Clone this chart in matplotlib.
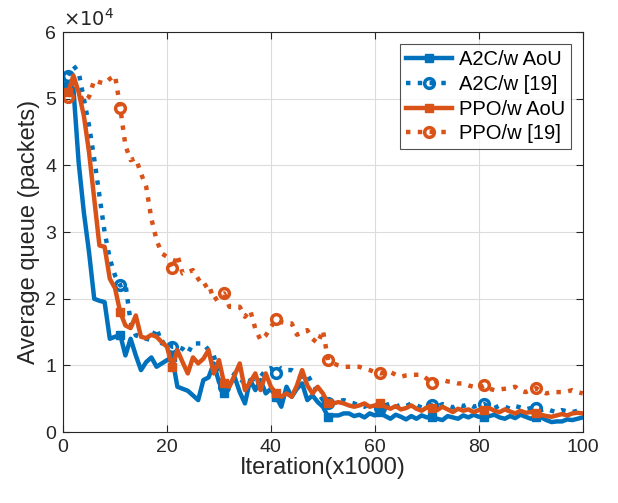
import numpy as np
import matplotlib.pyplot as plt
from matplotlib.ticker import FuncFormatter

plt.rcParams['font.family'] = ['Liberation Sans', 'DejaVu Sans']

# iterations (x1000)
iters = np.arange(1, 101)

# average queue, in thousands of packets
a2c_aou = [52, 51.5, 40.5, 33, 27, 20, 19.7, 19.5, 14, 14.3,
           14.6, 11.5, 14, 11.5, 9.3, 10.5, 11.2, 9.8, 10.3, 10.8,
           11.2, 6.8, 6.5, 6.2, 5.5, 4.8, 7.8, 8.2, 10.3, 7.5,
           5.9, 7, 8.3, 6, 4.3, 7.8, 6.3, 7.8, 5.8, 6.5,
           5.3, 3.8, 6.8, 5.3, 6.5, 7.3, 4.8, 5.5, 4.5, 3.8,
           2.3, 2.5, 2.5, 2.8, 2.8, 2.4, 2.6, 2.2, 2.8, 2.5,
           3.0, 2.4, 2.0, 2.6, 2.3, 1.9, 2.4, 2.0, 2.5, 2.2,
           2.3, 2.0, 1.8, 2.4, 2.2, 2.0, 2.5, 2.2, 2.6, 2.3,
           2.3, 2.4, 2.6, 2.2, 2.0, 2.4, 2.1, 2.6, 2.3, 2.0,
           2.3, 2.2, 1.8, 1.5, 1.6, 1.6, 1.9, 1.8, 2.0, 2.2]

a2c_19 = [53.5, 55, 54, 50, 46, 41, 35.5, 30, 26, 23.5,
          22, 22.3, 16.5, 14.5, 14.3, 14, 13.8, 15.6, 13.3, 13.8,
          12.8, 12.8, 12.5, 11.8, 13.3, 13.3, 13.3, 12.3, 11.5, 8.8,
          6.8, 7.5, 8.8, 8, 7.3, 7.8, 8, 8.3, 9.3, 9.6,
          8.8, 9.6, 9.3, 9.3, 8.8, 8.3, 8.6, 7.3, 6, 4.8,
          4.3, 4.5, 4.6, 4.8, 4.5, 4.3, 4.0, 3.8, 4.2, 4.0,
          3.6, 4.0, 4.3, 3.8, 4.1, 3.9, 4.3, 4.0, 3.7, 4.1,
          4.0, 3.8, 4.2, 4.0, 3.7, 4.1, 3.9, 4.2, 3.8, 4.0,
          4.2, 3.8, 3.6, 4.0, 3.8, 3.5, 3.9, 3.7, 3.4, 3.6,
          3.6, 3.3, 3.5, 3.2, 3.0, 3.3, 3.1, 3.0, 3.2, 3.1]

ppo_aou = [51, 53.5, 51, 47.5, 42, 35, 28, 27.8, 23, 21.6,
           18, 16, 15.6, 17.5, 14.3, 14.1, 14.6, 14.3, 13.5, 12.8,
           9.8, 12.3, 10.5, 8.8, 11.2, 10.3, 11, 12.3, 8.8, 10.8,
           7.3, 6.8, 8.5, 10.3, 6.3, 7.5, 8.8, 6.3, 8.8, 6.8,
           5.8, 5.3, 5.8, 5.3, 7, 9.3, 7, 5.8, 6.8, 5.8,
           4.3, 4.3, 4.5, 4.3, 4.0, 3.8, 4.0, 4.3, 3.8, 4.0,
           4.3, 3.8, 3.5, 3.9, 3.4, 3.6, 4.0, 3.5, 3.2, 3.7,
           3.6, 3.3, 3.8, 3.4, 3.0, 3.5, 3.2, 3.4, 3.0, 3.3,
           3.3, 3.6, 3.2, 3.0, 3.4, 3.1, 2.8, 3.2, 2.9, 3.0,
           2.8, 2.6, 2.4, 2.3, 2.5, 2.7, 2.5, 2.8, 2.9, 2.8]

ppo_19 = [50.3, 52.8, 51, 49.5, 50.3, 52.8, 52.5, 52.3, 53, 53.5,
          48.7, 43, 40.8, 41.1, 38.8, 36.8, 32, 28.8, 26.8, 26.3,
          24.6, 26.6, 23.8, 24, 24.3, 23, 21.8, 22.3, 19.8, 20.3,
          20.8, 18.8, 18.8, 18.8, 17.3, 18.3, 15.5, 13.8, 14.5, 15.8,
          16.9, 16.5, 16.3, 16.3, 14.6, 15, 15.3, 14, 13.3, 15.3,
          10.8, 10.3, 10, 9.8, 9.8, 9.8, 9.8, 9.5, 9.3, 9.0,
          8.8, 8.9, 9.0, 8.6, 8.3, 8.5, 8.6, 8.6, 8.6, 8.0,
          7.3, 7.6, 7.8, 7.6, 7.5, 7.3, 7.3, 7.0, 6.8, 6.6,
          7.0, 6.5, 6.3, 6.4, 6.5, 6.6, 6.8, 6.2, 6.0, 6.3,
          6.6, 6.1, 5.8, 6.0, 6.0, 6.0, 6.1, 6.3, 6.0, 5.8]

labels = ['A2C/w AoU', 'A2C/w [19]', 'PPO/w AoU', 'PPO/w [19]']
blue = '#0072BD'
orange = '#D95319'

fig = plt.figure(figsize=(6.18, 5.03), dpi=100)
ax = fig.add_axes([0.102, 0.141, 0.841, 0.795])

lw = 3.2
ax.plot(iters, np.array(a2c_aou) * 1000, color=blue, lw=lw, ls='-',
        marker='s', ms=6, markevery=10, label=labels[0])
ax.plot(iters, np.array(a2c_19) * 1000, color=blue, lw=lw, ls=':',
        marker='o', ms=7, mfc='none', mew=2.5, markevery=10, label=labels[1])
ax.plot(iters, np.array(ppo_aou) * 1000, color=orange, lw=lw, ls='-',
        marker='s', ms=6, markevery=10, label=labels[2])
ax.plot(iters, np.array(ppo_19) * 1000, color=orange, lw=lw, ls=':',
        marker='o', ms=7, mfc='none', mew=2.5, markevery=10, label=labels[3])

ax.set_xlim(0, 100)
ax.set_ylim(0, 60000)
ax.set_xticks(np.arange(0, 101, 20))
ax.set_yticks(np.arange(0, 60001, 10000))
ax.yaxis.set_major_formatter(FuncFormatter(lambda v, p: f'{v / 10000:g}'))
ax.text(0, 1.005, r'$\times10^4$', transform=ax.transAxes, fontsize=14,
        ha='left', va='bottom', color='#262626')

ax.grid(True, color='#dcdcdc', lw=0.8)
ax.set_axisbelow(True)
ax.tick_params(direction='in', labelsize=14, colors='#262626', top=True, right=True,
               length=5, pad=5)
for s in ax.spines.values():
    s.set_color('#262626')
    s.set_linewidth(0.8)

ax.set_xlabel('Iteration(x1000)', fontsize=17, color='#262626', labelpad=1)
ax.set_ylabel('Average queue (packets)', fontsize=17, color='#262626', labelpad=4)

leg = ax.legend(loc='upper right', fontsize=14.5, frameon=True, fancybox=False,
                edgecolor='#262626', handlelength=2.3, borderaxespad=0.6,
                labelspacing=0.28, handletextpad=0.3, borderpad=0.3)
leg.get_frame().set_linewidth(0.8)

fig.savefig('out.png', dpi=100)
